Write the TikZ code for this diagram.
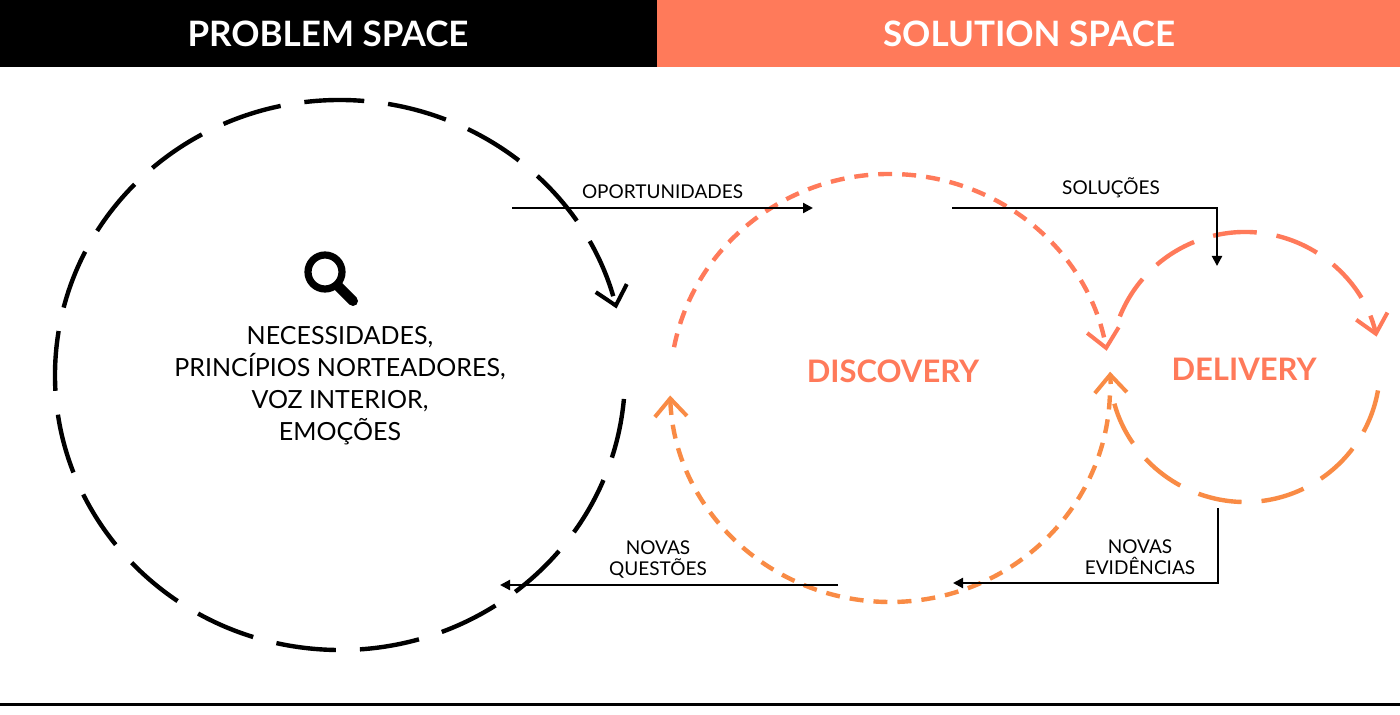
\documentclass[tikz,border=0pt]{standalone}
\usepackage{fontspec}
\setmainfont{Lato}
\usetikzlibrary{arrows.meta}
\definecolor{sol}{HTML}{FF7A5A}
\definecolor{dtop}{HTML}{FF7A5A}
\definecolor{dbot}{HTML}{F98B45}
\begin{document}
\begin{tikzpicture}[x=0.5pt,y=-0.5pt,
  lbl/.style={font=\fontsize{9.5}{10.5}\selectfont, align=center},
  flow/.style={line width=1.1pt,-{Triangle[length=5pt,width=5pt]}},
  chev/.style={-{Straight Barb[length=9pt,width=16pt,line width=2pt]}},
  bigdash/.style={line width=2.2pt, dash pattern=on 30pt off 12pt},
  disc/.style={line width=2.2pt, dash pattern=on 7pt off 5pt},
  deliv/.style={line width=2.2pt, dash pattern=on 22pt off 10pt}]
\useasboundingbox (0,0) rectangle (1400,715);
\fill[white] (0,0) rectangle (1400,715);
\fill[black] (0,0) rectangle (657,67);
\fill[sol] (657,0) rectangle (1400,67);
\node[white,font=\bfseries\fontsize{17.5}{20}\selectfont] (ps) at (328,34) {PROBLEM SPACE};
\node[white,font=\bfseries\fontsize{17.5}{20}\selectfont] (ss) at (1029,34) {SOLUTION SPACE};
\draw[line width=1.5pt] (0,704) -- (1400,704);
% problem circle
\draw[bigdash,chev] (340,375) ++(5:285 and 275) arc[start angle=5,end angle=346,x radius=285,y radius=275];
% magnifier
\draw[line width=3.6pt] (325,272) circle[radius=17];
\draw[line width=5pt,line cap=round] (338,286) -- (353,301);
\node[lbl,font=\fontsize{12.5}{16}\selectfont] (prob) at (340,386) {NECESSIDADES,\\PRINCÍPIOS NORTEADORES,\\VOZ INTERIOR,\\EMOÇÕES};
% discovery
\draw[disc,dtop,chev] (890,388) ++(191:220 and 214) arc[start angle=191,end angle=350,x radius=220,y radius=214];
\draw[disc,dbot,chev] (890,388) ++(2:220 and 214) arc[start angle=2,end angle=178,x radius=220,y radius=214];
\node[dtop,font=\bfseries\fontsize{15.5}{18}\selectfont] (disco) at (893,371) {DISCOVERY};
% delivery
\draw[deliv,dtop,chev] (1245,367) ++(202:135 and 135) arc[start angle=202,end angle=347,radius=135];
\draw[deliv,dbot,chev] (1245,367) ++(10:135 and 135) arc[start angle=10,end angle=178,radius=135];
\node[dtop,font=\bfseries\fontsize{15.5}{18}\selectfont] (deli) at (1244,369) {DELIVERY};
% flows
\coordinate (o1) at (512,208); \coordinate (o2) at (813,208);
\draw[flow] (o1) -- (o2) node[lbl,midway,above=1pt] {OPORTUNIDADES};
\coordinate (s1) at (952,208); \coordinate (s2) at (1217,208); \coordinate (s3) at (1217,266);
\draw[flow] (s1) -- node[lbl,above=1pt,pos=0.6] {SOLUÇÕES} (s2) -- (s3);
\coordinate (e1) at (1218,508); \coordinate (e2) at (1218,583); \coordinate (e3) at (953,583);
\draw[flow] (e1) -- (e2) -- (e3);
\node[lbl] (ev) at (1140,557) {NOVAS\\EVIDÊNCIAS};
\coordinate (q1) at (838,585); \coordinate (q2) at (500,585);
\draw[flow] (q1) -- (q2);
\node[lbl] (nq) at (658,560) {NOVAS\\QUESTÕES};
\end{tikzpicture}
\end{document}
